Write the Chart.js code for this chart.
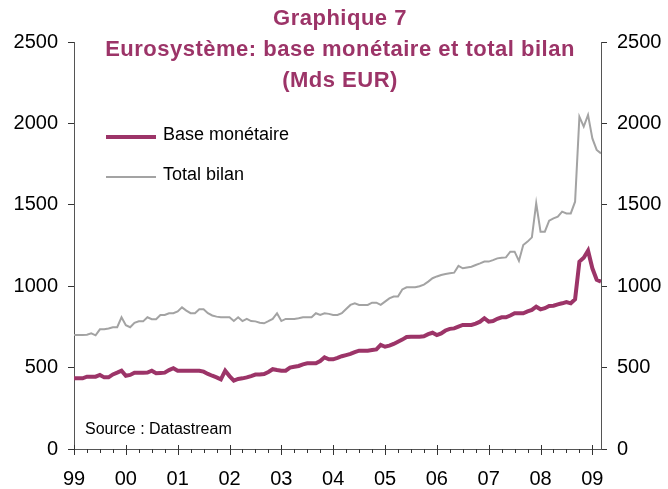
<!DOCTYPE html>
<html>
<head>
<meta charset="utf-8">
<script src="https://cdn.jsdelivr.net/npm/chart.js@4/dist/chart.umd.min.js"></script>
<style>
html,body{margin:0;padding:0;background:#fff;}
#wrap{position:relative;width:668px;height:489px;}
</style>
</head>
<body>
<div id="wrap"><canvas id="c" width="668" height="489"></canvas></div>
<script>
// Monthly data, Jan 1999 (index 0) to Mar 2009 (index 122), Mds EUR
const baseMonetaire = [
434,434,434,444,444,444,455,440,440,458,469,481,
450,455,469,469,469,470,481,465,467,469,485,496,
481,481,481,481,481,481,475,461,450,440,428,481,
448,420,430,434,440,448,457,457,460,473,490,485,
481,481,500,505,510,520,526,526,526,540,563,551,
551,560,570,577,584,595,604,604,604,608,612,639,
628,635,645,659,672,688,690,690,690,692,705,714,
700,710,728,738,741,752,762,762,762,770,782,803,
782,786,800,809,809,820,834,834,834,845,854,874,
858,865,878,880,888,895,903,895,920,1151,1175,1218,
1110,1040,1028
];
const totalBilan = [
700,700,700,702,710,698,735,735,740,748,748,809,
760,748,775,784,784,809,797,797,823,823,834,834,
845,870,850,834,834,858,858,834,820,813,809,809,
809,786,809,786,799,786,784,776,772,785,799,834,
786,799,799,799,803,809,809,809,834,823,834,830,
823,823,834,860,885,895,885,885,885,899,899,885,
905,925,936,936,980,993,993,993,1000,1010,1028,1049,
1060,1069,1075,1079,1083,1125,1110,1115,1120,1130,1140,1151,
1151,1160,1171,1175,1177,1212,1212,1155,1253,1274,1300,1509,
1335,1335,1402,1417,1427,1458,1447,1447,1519,2041,1980,2052,
1908,1837,1816
];
const yearLabels = ["99","00","01","02","03","04","05","06","07","08","09"];
const yearTickMonths = [0,12,24,36,48,60,72,84,96,108,120];
const quarterTickMonths = Array.from({length:41},(_,i)=>i*3);
const yTicks = [0,500,1000,1500,2000,2500];
const yTickLabels = ["0","500","1000","1500","2000","2500"];
const seriesNames = ["Base monétaire","Total bilan"];
const titleLines = ["Graphique 7","Eurosystème: base monétaire et total bilan","(Mds EUR)"];
const sourceText = "Source : Datastream";

const FONT = '"Liberation Sans", Arial, sans-serif';
const BASE_COLOR = '#9C3468';
const GREY_COLOR = '#A3A3A3';
const TITLE_COLOR = '#9C3468';

const decor = {
  id:'decor',
  afterDraw(chart){
    const ctx = chart.ctx;
    const xs = chart.scales.x;
    const bottom = chart.chartArea.bottom;
    ctx.save();
    // x-axis ticks
    ctx.strokeStyle = '#333';
    ctx.lineWidth = 1;
    quarterTickMonths.forEach(m=>{
      const px = Math.round(xs.getPixelForValue(m))+0.5;
      ctx.beginPath();
      if (m % 12 === 0) { ctx.moveTo(px,bottom-4); ctx.lineTo(px,bottom+6); }
      else { ctx.moveTo(px,bottom); ctx.lineTo(px,bottom+4); }
      ctx.stroke();
    });
    // title
    ctx.fillStyle = TITLE_COLOR;
    ctx.textAlign = 'center';
    ctx.textBaseline = 'middle';
    ctx.font = 'bold 22px ' + FONT;
    try { ctx.letterSpacing = '0.5px'; } catch(e) {}
    const ty = [19,50,81];
    titleLines.forEach((t,i)=>ctx.fillText(t,340,ty[i]));
    try { ctx.letterSpacing = '0px'; } catch(e) {}
    // legend
    const ds = chart.data.datasets;
    const ly = [137,177];
    ds.forEach((d,i)=>{
      ctx.strokeStyle = d.borderColor;
      ctx.lineWidth = d.borderWidth;
      ctx.beginPath();
      ctx.moveTo(106,ly[i]); ctx.lineTo(156,ly[i]);
      ctx.stroke();
      ctx.fillStyle = '#000';
      ctx.textAlign = 'left';
      ctx.font = '18px ' + FONT;
      ctx.fillText(d.label,163,ly[i]-2);
    });
    // source
    ctx.font = '16px ' + FONT;
    ctx.fillStyle = '#000';
    ctx.fillText(sourceText,85,430);
    ctx.restore();
  }
};

const yAxisCommon = {
  type:'linear', min:0, max:2500,
  afterBuildTicks(s){ s.ticks = yTicks.map(v=>({value:v})); },
  grid:{drawOnChartArea:false, drawTicks:true, tickLength:6, tickColor:'#333'},
  border:{display:true, color:'#555', width:1},
  ticks:{color:'#000', font:{family:FONT, size:20}, padding:10,
    callback:(v)=>{ const k = yTicks.indexOf(v); return k>=0 ? yTickLabels[k] : ''; }}
};

new Chart(document.getElementById('c'),{
  type:'line',
  data:{
    datasets:[
      {label:seriesNames[0], data:baseMonetaire.map((v,i)=>({x:i,y:v})), borderColor:BASE_COLOR, borderWidth:4, pointRadius:0, tension:0, yAxisID:'y'},
      {label:seriesNames[1], data:totalBilan.map((v,i)=>({x:i,y:v})), borderColor:GREY_COLOR, borderWidth:2, pointRadius:0, tension:0, yAxisID:'y'}
    ]
  },
  options:{
    responsive:false, animation:false,
    layout:{padding:{top:42,left:0,right:0,bottom:0}},
    plugins:{legend:{display:false}, title:{display:false}, tooltip:{enabled:false}},
    scales:{
      x:{
        type:'linear', min:0, max:122,
        afterBuildTicks(s){ s.ticks = yearTickMonths.map(v=>({value:v})); },
        afterFit(s){ s.height = 40; },
        grid:{display:false, drawTicks:false},
        border:{display:true, color:'#555', width:1},
        ticks:{color:'#000', font:{family:FONT, size:20}, padding:18, maxRotation:0,
          callback:(v)=>{ const k = yearTickMonths.indexOf(v); return k>=0 ? yearLabels[k] : ''; }}
      },
      y:Object.assign({}, yAxisCommon, {position:'left', afterFit(s){ s.width = 74; }}),
      y2:Object.assign({}, yAxisCommon, {position:'right', afterFit(s){ s.width = 67; }})
    }
  },
  plugins:[decor]
});
</script>
</body>
</html>
